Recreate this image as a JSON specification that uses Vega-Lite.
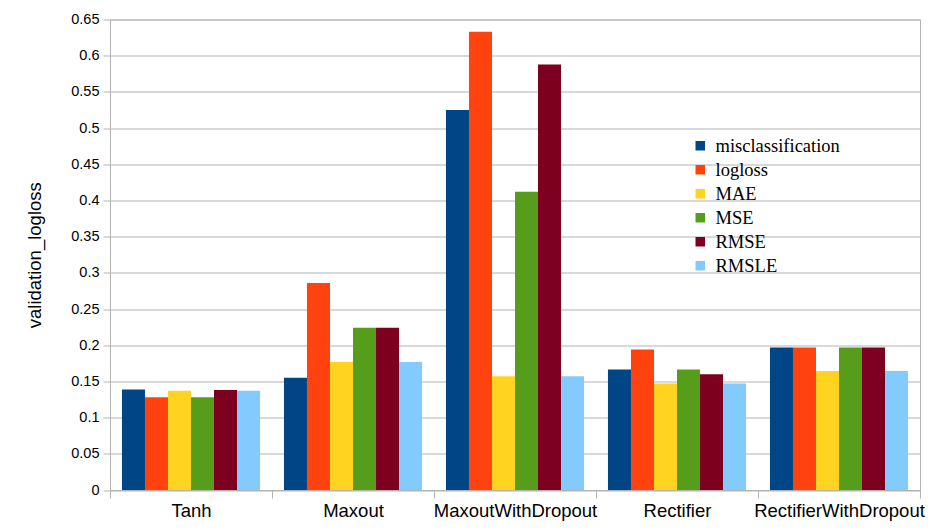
{
  "$schema": "https://vega.github.io/schema/vega-lite/v6.json",
  "autosize": "none",
  "padding": {"left": 110, "top": 19.5, "right": 25, "bottom": 41},
  "width": 810,
  "height": 470.5,
  "background": "white",
  "config": {
    "view": {"stroke": "#b3b3b3", "strokeWidth": 1},
    "axis": {"labelFont": "Liberation Sans", "titleFont": "Liberation Sans", "labelColor": "#000000", "titleColor": "#000000", "titleFontWeight": "normal", "domainColor": "#b3b3b3", "tickColor": "#b3b3b3", "gridColor": "#b3b3b3"}
  },
  "data": {
    "values": [
      {"activation": "Tanh", "metric": "misclassification", "value": 0.139},
      {"activation": "Tanh", "metric": "logloss", "value": 0.128},
      {"activation": "Tanh", "metric": "MAE", "value": 0.137},
      {"activation": "Tanh", "metric": "MSE", "value": 0.128},
      {"activation": "Tanh", "metric": "RMSE", "value": 0.138},
      {"activation": "Tanh", "metric": "RMSLE", "value": 0.137},
      {"activation": "Maxout", "metric": "misclassification", "value": 0.155},
      {"activation": "Maxout", "metric": "logloss", "value": 0.286},
      {"activation": "Maxout", "metric": "MAE", "value": 0.177},
      {"activation": "Maxout", "metric": "MSE", "value": 0.224},
      {"activation": "Maxout", "metric": "RMSE", "value": 0.224},
      {"activation": "Maxout", "metric": "RMSLE", "value": 0.177},
      {"activation": "MaxoutWithDropout", "metric": "misclassification", "value": 0.525},
      {"activation": "MaxoutWithDropout", "metric": "logloss", "value": 0.633},
      {"activation": "MaxoutWithDropout", "metric": "MAE", "value": 0.157},
      {"activation": "MaxoutWithDropout", "metric": "MSE", "value": 0.412},
      {"activation": "MaxoutWithDropout", "metric": "RMSE", "value": 0.588},
      {"activation": "MaxoutWithDropout", "metric": "RMSLE", "value": 0.157},
      {"activation": "Rectifier", "metric": "misclassification", "value": 0.1665},
      {"activation": "Rectifier", "metric": "logloss", "value": 0.194},
      {"activation": "Rectifier", "metric": "MAE", "value": 0.147},
      {"activation": "Rectifier", "metric": "MSE", "value": 0.1665},
      {"activation": "Rectifier", "metric": "RMSE", "value": 0.16},
      {"activation": "Rectifier", "metric": "RMSLE", "value": 0.147},
      {"activation": "RectifierWithDropout", "metric": "misclassification", "value": 0.197},
      {"activation": "RectifierWithDropout", "metric": "logloss", "value": 0.197},
      {"activation": "RectifierWithDropout", "metric": "MAE", "value": 0.1645},
      {"activation": "RectifierWithDropout", "metric": "MSE", "value": 0.197},
      {"activation": "RectifierWithDropout", "metric": "RMSE", "value": 0.197},
      {"activation": "RectifierWithDropout", "metric": "RMSLE", "value": 0.1645}
    ]
  },
  "mark": {"type": "bar"},
  "encoding": {
    "x": {
      "field": "activation", "type": "nominal",
      "sort": ["Tanh", "Maxout", "MaxoutWithDropout", "Rectifier", "RectifierWithDropout"],
      "scale": {"paddingInner": 0, "paddingOuter": 0},
      "axis": {"title": null, "labelAngle": 0, "labelFontSize": 18.5, "tickBand": "extent", "tickSize": 8, "labelPadding": 3, "grid": false}
    },
    "xOffset": {
      "field": "metric", "type": "nominal",
      "sort": ["misclassification", "logloss", "MAE", "MSE", "RMSE", "RMSLE"],
      "scale": {"paddingOuter": 0.52, "paddingInner": 0}
    },
    "y": {
      "field": "value", "type": "quantitative",
      "scale": {"domain": [0, 0.65], "nice": false},
      "axis": {"title": "validation_logloss", "titleFontSize": 18.5, "titlePadding": 26, "labelFontSize": 14.5, "tickSize": 7, "labelPadding": 4, "values": [0, 0.05, 0.1, 0.15, 0.2, 0.25, 0.3, 0.35, 0.4, 0.45, 0.5, 0.55, 0.6, 0.65], "format": "~g", "grid": true}
    },
    "color": {
      "field": "metric", "type": "nominal",
      "sort": ["misclassification", "logloss", "MAE", "MSE", "RMSE", "RMSLE"],
      "scale": {"domain": ["misclassification", "logloss", "MAE", "MSE", "RMSE", "RMSLE"], "range": ["#004586", "#ff420e", "#ffd320", "#579d1c", "#7e0021", "#83caff"]},
      "legend": {"title": null, "orient": "none", "legendX": 581, "legendY": 117, "symbolType": "square", "symbolSize": 90, "symbolStrokeWidth": 0, "labelFont": "Liberation Serif", "labelFontSize": 18.5, "labelColor": "#000000", "rowPadding": 5, "labelOffset": 6}
    }
  }
}
